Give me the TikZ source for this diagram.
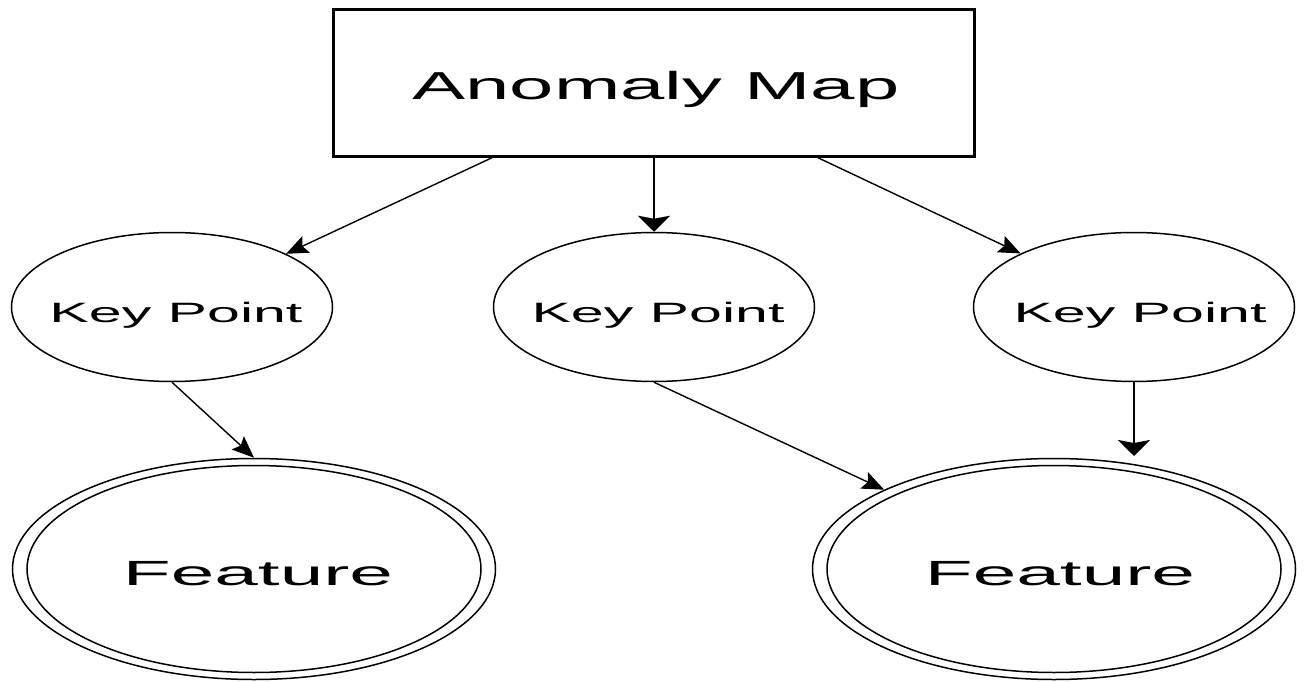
\documentclass[tikz,border=0pt]{standalone}
\usepackage{fontspec}
\setmainfont{Liberation Sans}
\usetikzlibrary{shapes.geometric,arrows.meta}
\begin{document}
\begin{tikzpicture}[x=1pt,y=-1pt,
  box/.style={draw,line width=2.5pt,minimum width=641pt,minimum height=147pt,inner sep=0pt},
  kp/.style={draw,ellipse,line width=1.5pt,minimum width=321pt,minimum height=149pt,inner sep=0pt},
  featout/.style={draw,ellipse,line width=1.5pt,minimum width=483pt,minimum height=221pt,inner sep=0pt},
  featin/.style={draw,ellipse,line width=1.5pt,minimum width=454pt,minimum height=207pt,inner sep=0pt},
  lbl/.style={anchor=base,inner sep=0pt},
  thinarrow/.style={line width=1.4pt,-{Stealth[length=22pt,width=18pt,inset=4pt]}},
  thickarrow/.style={line width=2.5pt,-{Stealth[length=16pt,width=32pt,inset=3pt]}}
]
\useasboundingbox (0,0) rectangle (1304,682);
% shapes
\node[box] (map) at (654,83) {};
\node[kp] (kp1) at (172,307) {};
\node[kp] (kp2) at (654,307) {};
\node[kp] (kp3) at (1134,307) {};
\node[featout] (feat1) at (254,569) {};
\node[featin] (feat1in) at (254,569) {};
\node[featout] (feat2) at (1054,569) {};
\node[featin] (feat2in) at (1054,569) {};
% labels
\node[lbl] (tmap) at (656,100) {\resizebox{487pt}{\height}{\fontsize{39}{39}\selectfont Anomaly Map}};
\node[lbl] (tkp1) at (176,322) {\resizebox{253pt}{\height}{\fontsize{28}{28}\selectfont Key Point}};
\node[lbl] (tkp2) at (658,322) {\resizebox{253pt}{\height}{\fontsize{28}{28}\selectfont Key Point}};
\node[lbl] (tkp3) at (1140,322) {\resizebox{253pt}{\height}{\fontsize{28}{28}\selectfont Key Point}};
\node[lbl] (tf1) at (258,585) {\resizebox{270pt}{\height}{\fontsize{35}{35}\selectfont Feature}};
\node[lbl] (tf2) at (1060,585) {\resizebox{270pt}{\height}{\fontsize{35}{35}\selectfont Feature}};
% connectors
\coordinate (e6) at (1134,456);
\draw[thinarrow] ([xshift=-162pt]map.south) -- (kp1);
\draw[thickarrow] (map.south) -- (kp2.north);
\draw[thinarrow] ([xshift=164pt]map.south) -- (kp3);
\draw[thinarrow] (kp1.south) -- (feat1.north);
\draw[thinarrow] (kp2.south) -- (feat2);
\draw[thickarrow] (kp3.south) -- (e6);
\end{tikzpicture}
\end{document}
